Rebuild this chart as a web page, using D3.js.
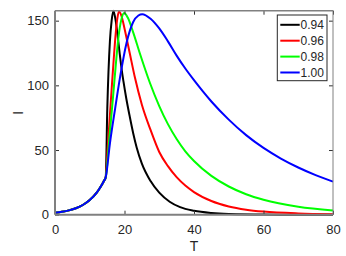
<!DOCTYPE html>
<html>
<head>
<meta charset="utf-8">
<script src="https://cdn.jsdelivr.net/npm/d3@7"></script>
<style>
  body { margin: 0; background: #fff; }
  svg text { font-family: "Liberation Sans", Arial, sans-serif; fill: #262626; }
  .tick line { stroke: #333; }
</style>
</head>
<body>
<div id="chart"></div>
<script>
// shared early growth
const growT = [0, 2, 4, 6, 8, 10, 12, 13, 14, 14.6];
const growI = [1.5, 2.25, 3.35, 5.0, 7.5, 11.3, 17, 21, 25.7, 29];

const labels = ['0.94', '0.96', '0.98', '1.00'];
const colors = ['#000000', '#ff0000', '#00ff00', '#0000ff'];

const t094 = [15.05, 15.8, 16.3, 16.8, 17.4, 18.0, 18.6, 19.2, 19.7, 20.5, 21.5, 22.5, 23.5, 25, 27.5, 30, 33, 36, 40, 45, 50, 60, 70, 80];
const i094 = [82, 134, 150, 157.7, 151, 139, 125, 112, 103, 90, 76, 63, 52, 39.5, 26, 17, 10, 5.8, 3, 1.3, 0.55, 0.1, 0.02, 0];

const t096 = [15.2, 15.8, 16.4, 17.0, 17.5, 17.9, 18.4, 19.2, 20, 21.5, 23, 25, 27.5, 30, 32.5, 35, 37.5, 40, 45, 50, 55, 60, 70, 80];
const i096 = [53, 77, 101, 124, 141, 151, 157, 153, 144, 125, 106, 85, 65.5, 48.5, 37.5, 29, 22.5, 17.5, 10.6, 6.4, 3.9, 2.4, 0.95, 0.4];

const t098 = [15.6, 16.6, 17.5, 18.3, 19.1, 19.9, 21, 22.5, 24.5, 27.3, 30, 32.5, 35, 37.5, 40, 45, 50, 55, 60, 70, 80];
const i098 = [58, 88, 116, 138, 151, 156, 152, 141, 124, 102, 84, 70, 58.5, 49, 41.5, 30, 21.8, 15.8, 11.5, 6.1, 3.2];

const t100 = [15.8, 17.3, 18.7, 20.6, 22.5, 24, 25.1, 27.5, 30, 32.5, 35, 37.5, 40, 42.5, 45, 50, 55, 60, 65, 70, 75, 80];
const i100 = [55, 82, 106, 133, 149, 154, 155, 151.5, 144, 134, 123, 113, 104, 95.5, 87.5, 73.5, 61.5, 51.6, 43.4, 36.5, 30.6, 25.6];

const xTicks = [0, 20, 40, 60, 80];
const yTicks = [0, 50, 100, 150];

const tails = [[t094, i094], [t096, i096], [t098, i098], [t100, i100]];
const series = tails.map(([t, v], k) => ({
  label: labels[k],
  color: colors[k],
  pts: growT.map((d, j) => [d, growI[j]]).concat(t.map((d, j) => [d, v[j]]))
}));

const W = 346, H = 256;
const margin = {top: 10.7, right: 13, bottom: 41.3, left: 55};
const width = W - margin.left - margin.right,
  height = H - margin.top - margin.bottom;

const sx = d3.scaleLinear().domain([0, 80]).range([0, width]);
const yMax = d3.max(series, s => d3.max(s.pts, p => p[1]));
const sy = d3.scaleLinear().domain([0, yMax]).range([height, 0]);

const svg = d3.select('#chart')
  .append('svg')
    .attr('width', W)
    .attr('height', H)
  .append('g')
    .attr('transform', `translate(${margin.left},${margin.top})`);

// curves
const line = d3.line()
  .x(d => sx(d[0]))
  .y(d => sy(d[1]))
  .curve(d3.curveMonotoneX);

svg.append('g')
  .attr('class', 'lines')
  .selectAll('path')
  .data(series)
  .enter()
  .append('path')
    .attr('fill', 'none')
    .attr('stroke', d => d.color)
    .attr('stroke-width', 2)
    .attr('d', d => line(d.pts));

// axes, ticks pointing in
svg.append('g')
  .attr('class', 'x axis')
  .attr('transform', `translate(0,${height})`)
  .call(d3.axisBottom(sx).tickValues(xTicks).tickSizeInner(-4).tickSizeOuter(0).tickPadding(10));

svg.append('g')
  .attr('class', 'y axis')
  .call(d3.axisLeft(sy).tickValues(yTicks).tickSizeInner(-4).tickSizeOuter(0).tickPadding(6));

svg.append('g')
  .attr('class', 'x2 axis')
  .call(d3.axisTop(sx).tickValues(xTicks).tickSizeInner(-4).tickSizeOuter(0).tickFormat(''));

svg.append('g')
  .attr('class', 'y2 axis')
  .attr('transform', `translate(${width},0)`)
  .call(d3.axisRight(sy).tickValues(yTicks).tickSizeInner(-4).tickSizeOuter(0).tickFormat(''));

svg.selectAll('.axis .domain').remove();
svg.selectAll('.axis text').style('font-size', '13px').style('fill', '#262626');

// box
const box = svg.append('g').attr('class', 'box').attr('stroke', '#808080');
box.append('line').attr('x1', 0).attr('x2', width).attr('y1', 0).attr('y2', 0).attr('stroke-width', 1.5);
box.append('line').attr('x1', width).attr('x2', width).attr('y1', 0).attr('y2', height).attr('stroke-width', 1);
box.append('line').attr('x1', 0).attr('x2', width).attr('y1', height).attr('y2', height).attr('stroke-width', 2);
box.append('line').attr('x1', 0).attr('x2', 0).attr('y1', 0).attr('y2', height).attr('stroke-width', 2);

// axis labels
svg.append('text')
  .attr('x', width / 2)
  .attr('y', height + 36)
  .style('text-anchor', 'middle')
  .style('font-size', '14px')
  .text('T');

svg.append('text')
  .attr('transform', `translate(${-32.3},${102})rotate(-90)`)
  .style('text-anchor', 'middle')
  .style('font-size', '14px')
  .text('I');

// legend
const lg = svg.append('g')
  .attr('class', 'legend')
  .attr('transform', `translate(${222.3},${4.3})`);

lg.append('rect')
  .attr('width', 49.7)
  .attr('height', 65.7)
  .attr('fill', '#fff')
  .attr('stroke', '#262626')
  .attr('stroke-width', 1);

const rows = lg.selectAll('.row')
  .data(series)
  .enter()
  .append('g')
    .attr('class', 'row')
    .attr('transform', (d, k) => `translate(0,${9.8 + k * 15.9})`);

rows.append('line')
  .attr('x1', 3)
  .attr('x2', 22.4)
  .attr('stroke', d => d.color)
  .attr('stroke-width', 2);

rows.append('text')
  .attr('x', 23.2)
  .attr('dy', '0.36em')
  .style('font-size', '12px')
  .text(d => d.label);
</script>
</body>
</html>
